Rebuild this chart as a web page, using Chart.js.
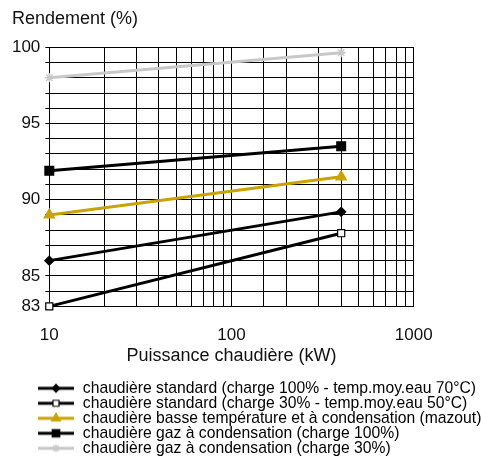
<!DOCTYPE html>
<html>
<head>
<meta charset="utf-8">
<script src="https://cdn.jsdelivr.net/npm/chart.js@4/dist/chart.umd.min.js"></script>
<style>
html,body{margin:0;padding:0;background:#fff;}
#wrap{width:481px;height:475px;}
</style>
</head>
<body>
<div id="wrap"><canvas id="c" width="481" height="475"></canvas></div>
<script>
// ---- data ----
const powers = [10, 400];
const standard100 = [86, 89.2];
const standard30 = [83, 87.8];
const basseTemp = [89, 91.5];
const gaz100 = [91.9, 93.5];
const gaz30 = [98, 99.65];
const seriesLabels = [
  "chaudière standard (charge 100% - temp.moy.eau 70°C)",
  "chaudière standard (charge 30% - temp.moy.eau 50°C)",
  "chaudière basse température et à condensation (mazout)",
  "chaudière gaz à condensation (charge 100%)",
  "chaudière gaz à condensation (charge 30%)"
];
const yTickLabels = [83, 85, 90, 95, 100];
const xTickLabels = [10, 100, 1000];
const yTitle = "Rendement (%)";
const xTitle = "Puissance chaudière (kW)";

const FONT = "'Liberation Sans', Arial, sans-serif";
const YELLOW = '#c9a400';
const GRAY = '#c8c8c8';

function pts(vals){ return powers.map((p,i)=>({x:p,y:vals[i]})); }

const styles = [
  {color:'#000', point:'rectRot', radius:4.5, fill:'#000'},
  {color:'#000', point:'rect', radius:5, fill:'#fff'},
  {color:YELLOW, point:'triangle', radius:6, fill:YELLOW},
  {color:'#000', point:'rect', radius:6.2, fill:'#000'},
  {color:GRAY, point:'star', radius:4.5, fill:GRAY}
];
const seriesData = [standard100, standard30, basseTemp, gaz100, gaz30];

function legendIcon(s){
  const c = document.createElement('canvas');
  c.width = 36; c.height = 14;
  const ctx = c.getContext('2d');
  ctx.strokeStyle = s.color; ctx.lineWidth = 3;
  ctx.beginPath(); ctx.moveTo(0,7); ctx.lineTo(36,7); ctx.stroke();
  ctx.fillStyle = s.fill; ctx.strokeStyle = s.color; ctx.lineWidth = s.point==='star'?1.5:1.2;
  Chart.helpers.drawPoint(ctx, {pointStyle:s.point, radius:s.radius*0.85, borderWidth:1.2, rotation:0}, 18, 7);
  return c;
}

const datasets = seriesData.map((vals,i)=>{
  const s = styles[i];
  return {
    label: seriesLabels[i],
    data: pts(vals),
    borderColor: s.color,
    borderWidth: 3,
    pointStyle: s.point,
    pointRadius: s.radius,
    pointBackgroundColor: s.fill,
    pointBorderColor: s.color,
    pointBorderWidth: s.point==='star'?1.5:1.2,
    tension: 0,
    clip: false
  };
});
const icons = styles.map(legendIcon);

const legendShift = {
  id:'legendShift',
  afterLayout(chart){
    const lg = chart.legend;
    if (lg){ lg.left = 37.7; lg.right = 481; lg.width = 443.3; }
  }
};

new Chart(document.getElementById('c'), {
  type: 'line',
  data: { datasets },
  plugins: [legendShift],
  options: {
    responsive: false,
    animation: false,
    devicePixelRatio: 1,
    layout: { padding: { left: 12, right: 67.3, top: 0, bottom: 8.85 } },
    scales: {
      x: {
        type: 'logarithmic',
        min: 10, max: 1000,
        grid: { color: '#000', lineWidth: 1, drawTicks: false },
        border: { color: '#000', width: 1 },
        ticks: {
          autoSkip: false, maxRotation: 0, padding: 18.5,
          color: '#111',
          font: { family: FONT, size: 17 },
          callback: (v) => xTickLabels.includes(Number(v)) ? String(v) : ''
        },
        title: { display: true, text: xTitle, color: '#111',
          font: { family: FONT, size: 18 }, padding: { top: 0, bottom: 14.5 } },
        afterFit: (s) => { s.height = 74.8; }
      },
      y: {
        type: 'linear',
        min: 83, max: 100,
        grid: { color: '#000', lineWidth: 1, tickLength: 4 },
        border: { color: '#000', width: 1 },
        ticks: {
          stepSize: 1, autoSkip: false, padding: 5,
          color: '#111',
          font: { family: FONT, size: 17 },
          callback: (v) => yTickLabels.includes(Number(v)) ? String(v) : ''
        },
        afterFit: (s) => { s.width = 37.3; }
      }
    },
    plugins: {
      title: { display: true, text: yTitle, align: 'start', color: '#111',
        font: { family: FONT, size: 18, weight: 'normal' },
        padding: { top: 8.6, bottom: 17.1 } },
      legend: {
        display: true, position: 'bottom', align: 'start',
        labels: {
          usePointStyle: true, pointStyleWidth: 38, padding: -0.7,
          color: '#111',
          font: { family: FONT, size: 15.7, lineHeight: 1 },
          generateLabels: (chart) => chart.data.datasets.map((d,i)=>({
            text: d.label, pointStyle: icons[i], datasetIndex: i,
            fillStyle: d.borderColor, strokeStyle: d.borderColor, lineWidth: 0, hidden: false
          }))
        }
      },
      tooltip: { enabled: false }
    }
  }
});
</script>
</body>
</html>
